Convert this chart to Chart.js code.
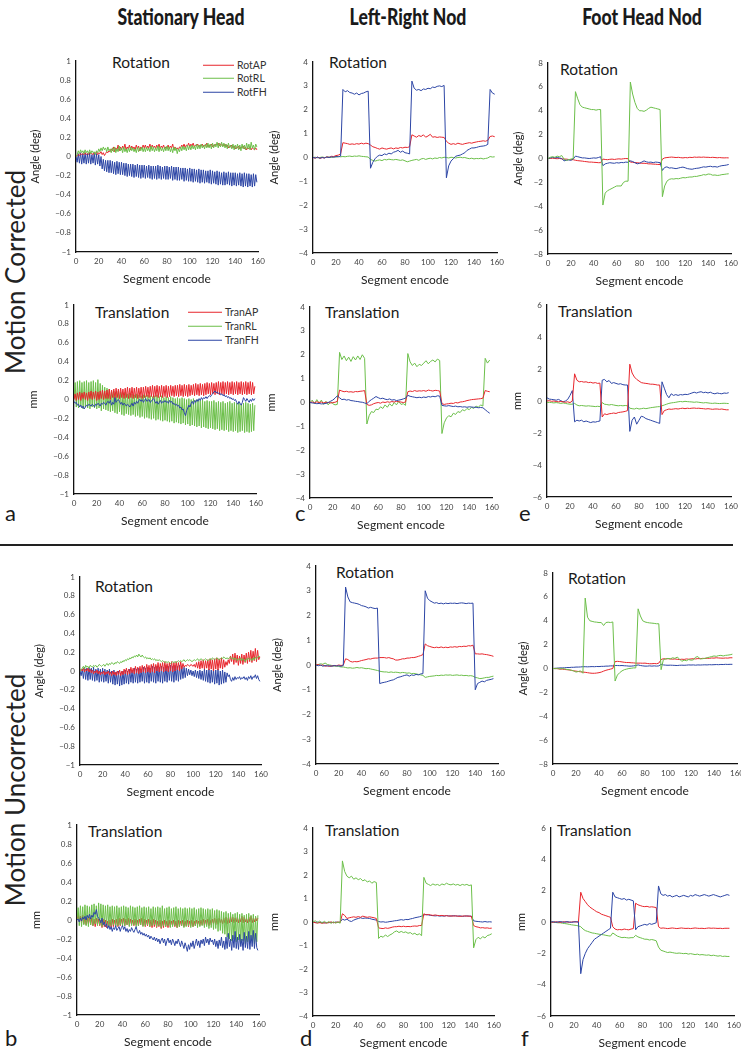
<!DOCTYPE html>
<html>
<head>
<meta charset="utf-8">
<script src="https://cdn.jsdelivr.net/npm/chart.js@4"></script>
<style>
  body { margin: 0; background: #fff; width: 741px; height: 1050px; position: relative; overflow: hidden; font-family: Lato, 'Open Sans', sans-serif; color: #1a1a1a; }
  canvas { position: absolute; }
  .hd { position: absolute; transform: translate(-50%, -50%) scaleX(0.8); font: 900 22px Lato, 'Open Sans', sans-serif; line-height: 1; white-space: nowrap; color: #1a1a1a; }
  .tt { position: absolute; transform: translateY(-50%); font-size: 15.5px; line-height: 1; white-space: nowrap; }
  .side { position: absolute; transform: translate(-50%, -50%) rotate(-90deg); font-size: 26px; line-height: 1; white-space: nowrap; color: #222; }
  .let { position: absolute; transform: translateY(-50%); font-size: 22px; line-height: 1; }
  .lg { position: absolute; transform: translateY(-50%); font-size: 10.5px; line-height: 1; display: flex; align-items: center; white-space: nowrap; color: #333; }
  .lg span { display: inline-block; border-top: 1.4px solid; margin-right: 3px; }
  .rule { position: absolute; left: 0; top: 544px; width: 733px; height: 2px; background: #222; }
</style>
</head>
<body>
<div class="hd" style="left:181px;top:17px">Stationary Head</div>
<div class="hd" style="left:408px;top:17px">Left-Right Nod</div>
<div class="hd" style="left:642px;top:17px">Foot Head Nod</div>
<div class="side" style="left:15px;top:272px">Motion Corrected</div>
<div class="side" style="left:15px;top:790px">Motion Uncorrected</div>
<div class="rule"></div>

<div class="tt" style="left:112px;top:63px">Rotation</div>
<div class="tt" style="left:329px;top:63px">Rotation</div>
<div class="tt" style="left:560px;top:70px">Rotation</div>
<div class="tt" style="left:95px;top:313px">Translation</div>
<div class="tt" style="left:325px;top:313px">Translation</div>
<div class="tt" style="left:558px;top:312px">Translation</div>
<div class="tt" style="left:95px;top:587px">Rotation</div>
<div class="tt" style="left:336px;top:573px">Rotation</div>
<div class="tt" style="left:568px;top:579px">Rotation</div>
<div class="tt" style="left:88px;top:832px">Translation</div>
<div class="tt" style="left:325px;top:831px">Translation</div>
<div class="tt" style="left:557px;top:831px">Translation</div>

<div class="lg" style="left:203px;top:65px"><span style="width:31px;border-color:#e8262d"></span>RotAP</div>
<div class="lg" style="left:203px;top:78px"><span style="width:31px;border-color:#6cbf4a"></span>RotRL</div>
<div class="lg" style="left:203px;top:92px"><span style="width:31px;border-color:#2c45a5"></span>RotFH</div>
<div class="lg" style="left:188px;top:312px"><span style="width:34px;border-color:#e8262d"></span>TranAP</div>
<div class="lg" style="left:188px;top:326px"><span style="width:34px;border-color:#6cbf4a"></span>TranRL</div>
<div class="lg" style="left:188px;top:340px"><span style="width:34px;border-color:#2c45a5"></span>TranFH</div>

<div class="let" style="left:5px;top:513px">a</div>
<div class="let" style="left:295px;top:513px">c</div>
<div class="let" style="left:519px;top:513px">e</div>
<div class="let" style="left:5px;top:1038px">b</div>
<div class="let" style="left:300px;top:1038px">d</div>
<div class="let" style="left:521px;top:1038px">f</div>

<script>
// x categories: every segment for the stationary runs, every 2nd segment for the nod runs
const segments = Array.from({ length: 160 }, (_, i) => i);
const segEven = Array.from({ length: 80 }, (_, i) => 2 * i);

// ---- a: stationary head, motion corrected ----
const aRotAP = [0,0.01,0.02,0.01,0.03,0.02,0.03,0.02,0.04,0.02, 0.03,0.02,0.04,0.03,0.03,0.02,0.04,0.03,0.05,0.02,
  0.04,0.03,0.05,0.02,0.04,0.01,0.03,0.05,0.04,0.06, 0.05,0.08,0.06,0.1,0.05,0.09,0.07,0.12,0.06,0.1,
  0.07,0.11,0.08,0.13,0.07,0.1,0.08,0.12,0.07,0.11, 0.08,0.1,0.07,0.12,0.08,0.11,0.06,0.1,0.08,0.12,
  0.09,0.12,0.08,0.11,0.09,0.13,0.08,0.12,0.09,0.11, 0.08,0.12,0.09,0.13,0.08,0.11,0.09,0.12,0.08,0.1,
  0.09,0.12,0.08,0.11,0.09,0.13,0.07,0.1,0.08,0.09, 0.07,0.1,0.09,0.12,0.1,0.13,0.09,0.12,0.11,0.14,
  0.1,0.13,0.11,0.14,0.1,0.12,0.11,0.13,0.1,0.12, 0.11,0.13,0.1,0.12,0.11,0.14,0.1,0.12,0.11,0.13,
  0.1,0.12,0.11,0.13,0.12,0.14,0.11,0.13,0.12,0.12, 0.11,0.13,0.1,0.12,0.09,0.11,0.1,0.12,0.09,0.11,
  0.08,0.1,0.09,0.11,0.08,0.1,0.09,0.11,0.08,0.1, 0.07,0.09,0.08,0.1,0.07,0.09,0.08,0.07,0.09,0.07];
const aRotRL = [0,0.02,0.06,0.03,0.07,0.04,0.06,0.03,0.07,0.04, 0.06,0.03,0.07,0.03,0.06,0.04,0.05,0.02,0.06,0.04,
  0.08,0.05,0.09,0.06,0.1,0.07,0.09,0.05,0.1,0.06, 0.08,0.04,0.09,0.05,0.1,0.04,0.08,0.05,0.11,0.06,
  0.09,0.04,0.1,0.05,0.08,0.04,0.09,0.05,0.1,0.06, 0.09,0.05,0.08,0.04,0.1,0.05,0.09,0.06,0.1,0.05,
  0.09,0.05,0.1,0.06,0.09,0.05,0.11,0.06,0.1,0.05, 0.09,0.06,0.11,0.05,0.1,0.06,0.09,0.05,0.1,0.06,
  0.11,0.06,0.1,0.05,0.09,0.04,0.1,0.06,0.09,0.03, 0.08,0.05,0.1,0.06,0.11,0.07,0.1,0.06,0.12,0.07,
  0.11,0.07,0.12,0.08,0.11,0.07,0.13,0.08,0.12,0.08, 0.13,0.09,0.12,0.08,0.13,0.09,0.14,0.09,0.13,0.08,
  0.14,0.09,0.13,0.1,0.15,0.09,0.14,0.1,0.15,0.1, 0.14,0.09,0.13,0.08,0.14,0.09,0.12,0.08,0.13,0.07,
  0.12,0.08,0.13,0.07,0.12,0.06,0.13,0.08,0.12,0.07, 0.14,0.08,0.13,0.07,0.15,0.09,0.12,0.07,0.13,0.1];
const aRotFH = [0,-0.06,0.03,-0.07,0.04,-0.08,0.03,-0.07,0.04,-0.08, 0.03,-0.07,0.04,-0.08,0.02,-0.07,0.04,-0.09,0.03,-0.08,
  0.02,-0.1,0,-0.13,-0.03,-0.15,-0.04,-0.16,-0.04,-0.17, -0.04,-0.17,-0.05,-0.18,-0.06,-0.19,-0.05,-0.18,-0.06,-0.19,
  -0.06,-0.19,-0.07,-0.2,-0.07,-0.21,-0.08,-0.2,-0.08,-0.21, -0.08,-0.22,-0.09,-0.21,-0.08,-0.22,-0.09,-0.23,-0.09,-0.22,
  -0.09,-0.23,-0.1,-0.22,-0.09,-0.23,-0.1,-0.24,-0.1,-0.23, -0.1,-0.24,-0.09,-0.23,-0.1,-0.24,-0.11,-0.23,-0.1,-0.24,
  -0.1,-0.24,-0.11,-0.23,-0.1,-0.25,-0.11,-0.24,-0.11,-0.25, -0.11,-0.25,-0.12,-0.24,-0.12,-0.26,-0.12,-0.25,-0.13,-0.26,
  -0.12,-0.26,-0.13,-0.27,-0.13,-0.26,-0.14,-0.27,-0.13,-0.28, -0.14,-0.27,-0.14,-0.28,-0.15,-0.27,-0.15,-0.28,-0.14,-0.29,
  -0.15,-0.28,-0.16,-0.29,-0.15,-0.3,-0.16,-0.29,-0.17,-0.3, -0.16,-0.3,-0.17,-0.29,-0.16,-0.3,-0.17,-0.31,-0.17,-0.3,
  -0.17,-0.31,-0.18,-0.3,-0.17,-0.31,-0.18,-0.32,-0.17,-0.31, -0.18,-0.32,-0.18,-0.31,-0.19,-0.32,-0.18,-0.31,-0.19,-0.27];
const aTranAP = [0,0.06,-0.01,0.07,0,0.08,-0.01,0.07,0.01,0.08, 0,0.07,-0.01,0.08,0.01,0.09,0,0.08,0.01,0.09,
  -0.01,0.08,0,0.09,0.01,0.1,0,0.09,0.01,0.1, 0.01,0.11,0,0.1,0.02,0.11,0.01,0.12,0.02,0.11,
  0.01,0.12,0.02,0.11,0.01,0.12,0.02,0.13,0.01,0.12, 0.02,0.13,0.01,0.12,0.02,0.13,0.01,0.12,0.02,0.13,
  0.01,0.13,0.02,0.14,0.03,0.13,0.02,0.14,0.03,0.15, 0.02,0.14,0.03,0.15,0.02,0.14,0.03,0.15,0.02,0.14,
  0.03,0.15,0.02,0.14,0.03,0.15,0.04,0.14,0.03,0.15, 0.04,0.15,0.03,0.16,0.04,0.15,0.03,0.16,0.04,0.15,
  0.03,0.16,0.04,0.15,0.05,0.16,0.04,0.17,0.05,0.16, 0.04,0.17,0.05,0.16,0.04,0.17,0.05,0.18,0.06,0.17,
  0.05,0.18,0.06,0.17,0.05,0.18,0.06,0.19,0.05,0.18, 0.06,0.19,0.05,0.18,0.06,0.19,0.05,0.18,0.06,0.19,
  0.05,0.18,0.06,0.19,0.05,0.18,0.06,0.19,0.05,0.18, 0.06,0.19,0.05,0.18,0.06,0.19,0.05,0.18,0.06,0.14];
const aTranRL = [0,0.18,-0.08,0.19,-0.09,0.2,-0.07,0.18,-0.1,0.19, -0.08,0.2,-0.09,0.18,-0.1,0.19,-0.08,0.2,-0.09,0.18,
  -0.1,0.21,-0.09,0.17,-0.12,0.15,-0.1,0.13,-0.11,0.12, -0.12,0.11,-0.13,0.1,-0.12,0.09,-0.14,0.08,-0.15,0.09,
  -0.13,0.08,-0.16,0.07,-0.17,0.08,-0.15,0.06,-0.16,0.07, -0.17,0.06,-0.16,0.05,-0.18,0.06,-0.17,0.05,-0.19,0.04,
  -0.18,0.05,-0.2,0.04,-0.19,0.05,-0.2,0.04,-0.21,0.03, -0.2,0.04,-0.22,0.05,-0.21,0.03,-0.22,0.04,-0.23,0.02,
  -0.22,0.03,-0.23,0.02,-0.24,0.03,-0.23,0.02,-0.25,0.01, -0.24,0.02,-0.25,0.01,-0.26,0.02,-0.25,0.01,-0.27,0,
  -0.26,0.01,-0.28,0,-0.27,0.01,-0.28,-0.01,-0.29,0, -0.28,-0.01,-0.3,0,-0.29,-0.02,-0.3,-0.01,-0.31,-0.02,
  -0.3,-0.02,-0.31,-0.01,-0.32,-0.03,-0.31,-0.02,-0.33,-0.03, -0.32,-0.02,-0.33,-0.04,-0.32,-0.03,-0.34,-0.02,-0.33,-0.04,
  -0.34,-0.03,-0.33,-0.04,-0.35,-0.03,-0.34,-0.05,-0.33,-0.04, -0.35,-0.03,-0.34,-0.04,-0.35,-0.05,-0.34,-0.04,-0.33,-0.06];
const aTranFH = [-0.02,-0.04,-0.03,-0.06,-0.05,-0.08,-0.06,-0.09,-0.07,-0.1, -0.08,-0.06,-0.07,-0.05,-0.06,-0.07,-0.05,-0.06,-0.08,-0.05,
  -0.06,-0.04,-0.05,-0.07,-0.04,-0.05,-0.03,-0.04,-0.06,-0.03, -0.02,-0.04,-0.01,-0.06,-0.03,-0.05,0.02,-0.03,-0.01,0,
  -0.02,-0.05,-0.03,-0.06,-0.04,-0.05,-0.07,-0.05,-0.06,-0.08, -0.06,-0.04,-0.07,-0.03,-0.05,-0.02,-0.04,-0.01,0,-0.02,
  0,-0.03,-0.01,0.01,-0.02,-0.01,0,-0.03,-0.02,0, 0.01,-0.02,-0.04,-0.02,-0.05,-0.03,-0.01,-0.04,-0.02,-0.03,
  -0.01,-0.03,-0.02,-0.04,-0.01,-0.03,-0.02,-0.05,-0.04,-0.06, -0.05,-0.07,-0.06,-0.09,-0.08,-0.11,-0.1,-0.14,-0.17,-0.12,
  -0.09,-0.06,-0.08,-0.04,-0.02,-0.05,-0.01,-0.03,0,-0.02, 0.01,-0.01,0.02,0,0.02,0.01,0.03,0.01,0.03,0.04,
  0.03,0.05,0.06,0.08,0.09,0.07,0.08,0.06,0.07,0.05, 0.06,0.04,0.05,0.03,0.04,0.02,0.03,0.01,0.02,0,
  0.01,-0.01,0,-0.03,-0.05,-0.02,-0.04,-0.06,-0.03,0.02, 0,-0.02,0.01,-0.01,-0.03,0,-0.02,0.01,-0.01,0.01];

// ---- b: stationary head, motion uncorrected ----
const bRotAP = [0,0.02,0,0.03,-0.01,0.02,0,0.03,-0.01,0.02, -0.02,0.01,-0.03,0,-0.02,0.01,-0.03,0,-0.04,-0.01,
  -0.03,0,-0.04,-0.01,-0.03,0,-0.04,-0.01,-0.05,0, -0.04,-0.01,-0.05,0,-0.04,0.01,-0.05,0,-0.04,0.02,
  -0.03,0.03,-0.04,0.02,-0.03,0.04,-0.02,0.03,-0.03,0.05, -0.02,0.04,-0.03,0.05,-0.02,0.06,-0.01,0.05,-0.02,0.07,
  -0.01,0.06,-0.02,0.07,-0.01,0.08,-0.02,0.07,0,0.09, -0.01,0.08,0,0.09,-0.01,0.1,0,0.08,-0.01,0.09,
  0,0.1,-0.01,0.09,0,0.1,0.01,0.09,0,0.1, 0.02,0.08,0.04,0.06,0.05,0.07,0.06,0.05,0.07,0.06,
  0.05,0.07,0.04,0.09,0.03,0.1,0.02,0.11,0.03,0.12, 0.02,0.11,0.03,0.12,0.01,0.13,0.02,0.12,0,0.13,
  0.02,0.14,0.01,0.13,0.03,0.14,0.02,0.12,0.04,0.1, 0.06,0.12,0.08,0.16,0.1,0.18,0.07,0.19,0.09,0.17,
  0.06,0.16,0.08,0.18,0.07,0.17,0.09,0.19,0.08,0.2, 0.1,0.22,0.09,0.21,0.11,0.24,0.1,0.22,0.12,0.15];
const bRotRL = [0,0.01,0.03,0.05,0.02,0.06,0.04,0.05,0.03,0.06, 0.05,0.04,0.06,0.05,0.06,0.04,0.05,0.07,0.06,0.05,
  0.06,0.07,0.05,0.07,0.08,0.06,0.08,0.07,0.09,0.08, 0.07,0.09,0.08,0.1,0.09,0.08,0.1,0.09,0.11,0.1,
  0.12,0.11,0.13,0.12,0.14,0.13,0.15,0.14,0.16,0.15, 0.17,0.15,0.18,0.16,0.15,0.17,0.15,0.14,0.15,0.13,
  0.14,0.13,0.14,0.12,0.13,0.12,0.13,0.11,0.12,0.11, 0.12,0.11,0.1,0.11,0.1,0.09,0.1,0.09,0.1,0.09,
  0.08,0.09,0.1,0.09,0.1,0.09,0.1,0.11,0.1,0.11, 0.1,0.11,0.12,0.1,0.11,0.12,0.11,0.12,0.11,0.1,
  0.11,0.12,0.11,0.12,0.13,0.11,0.12,0.13,0.12,0.11, 0.12,0.13,0.12,0.11,0.12,0.13,0.12,0.14,0.13,0.12,
  0.13,0.14,0.13,0.12,0.13,0.14,0.13,0.15,0.14,0.13, 0.14,0.13,0.14,0.15,0.13,0.14,0.12,0.14,0.13,0.11,
  0.13,0.12,0.14,0.11,0.13,0.12,0.1,0.13,0.12,0.14, 0.12,0.13,0.11,0.14,0.12,0.15,0.13,0.14,0.16,0.15];
const bRotFH = [0,-0.05,0.02,-0.08,0.04,-0.09,0.03,-0.1,0.04,-0.09, 0.03,-0.1,0.04,-0.11,0.02,-0.1,0.03,-0.12,0.02,-0.11,
  0.03,-0.12,0.02,-0.11,0.01,-0.13,0.02,-0.12,0,-0.14, 0.01,-0.15,-0.01,-0.14,0,-0.16,-0.02,-0.15,0,-0.14,
  0.01,-0.13,0,-0.14,0.02,-0.12,0.01,-0.13,0.03,-0.12, 0.02,-0.13,0.03,-0.12,0.02,-0.11,0.04,-0.13,0.03,-0.12,
  0.04,-0.13,0.03,-0.11,0.05,-0.12,0.04,-0.13,0.05,-0.11, 0.04,-0.12,0.05,-0.13,0.04,-0.11,0.06,-0.12,0.05,-0.1,
  0.06,-0.11,0.05,-0.12,0.06,-0.1,0.05,-0.11,0.06,-0.09, 0.05,-0.08,0.04,-0.07,0.03,-0.05,0.02,-0.04,0.01,-0.05,
  0,-0.06,0.01,-0.07,0,-0.08,0.01,-0.09,0,-0.1, 0.02,-0.11,0.01,-0.12,0.02,-0.13,0.01,-0.12,0.02,-0.14,
  0.01,-0.13,0.02,-0.15,0,-0.14,0.01,-0.13,-0.01,-0.12, -0.02,-0.06,-0.04,-0.09,-0.11,-0.07,-0.1,-0.06,-0.09,-0.07,
  -0.08,-0.06,-0.09,-0.07,-0.08,-0.06,-0.09,-0.07,-0.1,-0.06, -0.08,-0.05,-0.09,-0.06,-0.07,-0.04,-0.08,-0.05,-0.09,-0.11];
const bTranAP = [0,0.06,-0.02,0.04,-0.03,0.05,-0.04,0.03,-0.05,0.02, -0.04,0.03,-0.05,0.02,-0.06,0.01,-0.07,0.02,-0.05,0.01,
  -0.06,0,-0.08,0.01,-0.07,0,-0.08,-0.01,-0.07,0, -0.08,0.01,-0.07,0,-0.06,0.01,-0.07,0.02,-0.06,0.01,
  -0.05,0.02,-0.06,0.01,-0.05,0.02,-0.06,0.01,-0.05,0, -0.06,0.01,-0.05,0,-0.06,0.01,-0.05,0.02,-0.06,0.01,
  -0.07,0,-0.06,0.01,-0.07,0,-0.08,0.01,-0.07,0, -0.08,-0.01,-0.07,0,-0.09,-0.01,-0.08,0,-0.07,-0.01,
  -0.08,0,-0.07,-0.01,-0.06,0,-0.07,-0.01,-0.08,0, -0.07,-0.01,-0.06,0,-0.07,-0.01,-0.06,0,-0.07,-0.01,
  -0.06,0,-0.07,-0.01,-0.06,0,-0.05,-0.01,-0.06,0, -0.05,0.01,-0.06,0,-0.05,0.01,-0.06,0,-0.05,0.01,
  -0.04,0.02,-0.05,0.01,-0.04,0.02,-0.03,0.01,-0.04,0.02, -0.03,0.03,-0.04,0.02,-0.03,0.04,-0.02,0.03,-0.03,0.02,
  -0.02,0.03,-0.03,0.02,-0.02,0.04,-0.03,0.03,-0.02,0.02, -0.03,0.03,-0.02,0.04,-0.03,0.02,-0.02,0.03,-0.01,0.02];
const bTranRL = [0,0.13,-0.06,0.15,-0.07,0.14,-0.05,0.16,-0.06,0.15, -0.07,0.14,-0.05,0.16,-0.06,0.17,-0.04,0.15,-0.06,0.18,
  -0.05,0.17,-0.07,0.16,-0.05,0.15,-0.06,0.16,-0.07,0.14, -0.06,0.15,-0.05,0.14,-0.07,0.15,-0.06,0.13,-0.05,0.14,
  -0.07,0.15,-0.06,0.14,-0.05,0.13,-0.07,0.15,-0.06,0.14, -0.05,0.13,-0.07,0.14,-0.06,0.15,-0.05,0.13,-0.07,0.14,
  -0.06,0.13,-0.05,0.14,-0.07,0.12,-0.06,0.14,-0.05,0.13, -0.07,0.14,-0.06,0.13,-0.08,0.15,-0.06,0.12,-0.07,0.13,
  -0.06,0.14,-0.08,0.12,-0.07,0.13,-0.06,0.14,-0.08,0.12, -0.07,0.13,-0.06,0.12,-0.08,0.13,-0.07,0.12,-0.06,0.13,
  -0.08,0.12,-0.07,0.13,-0.06,0.11,-0.08,0.12,-0.07,0.13, -0.06,0.12,-0.08,0.11,-0.07,0.12,-0.09,0.11,-0.08,0.12,
  -0.1,0.1,-0.09,0.11,-0.12,0.1,-0.11,0.09,-0.14,0.08, -0.15,0.09,-0.18,0.07,-0.2,0.08,-0.22,0.06,-0.2,0.07,
  -0.23,0.08,-0.21,0.06,-0.24,0.07,-0.22,0.05,-0.25,0.06, -0.23,0.07,-0.24,0.05,-0.22,0.06,-0.25,0.04,-0.23,0.05];
const bTranFH = [0,0.01,-0.02,0.02,-0.01,0.03,0.01,0.04,0,0.05, 0.02,0.06,0.01,0.05,0.03,0.08,0.06,0.11,0.04,0.02,
  0,-0.03,0.02,-0.05,-0.02,-0.07,-0.04,-0.09,-0.06,-0.1, -0.07,-0.12,-0.08,-0.1,-0.06,-0.11,-0.09,-0.07,-0.12,-0.08,
  -0.06,-0.1,-0.07,-0.12,-0.09,-0.13,-0.1,-0.12,-0.08,-0.11, -0.13,-0.1,-0.07,-0.12,-0.14,-0.11,-0.15,-0.13,-0.16,-0.14,
  -0.17,-0.15,-0.18,-0.16,-0.2,-0.17,-0.19,-0.21,-0.18,-0.22, -0.19,-0.23,-0.2,-0.25,-0.21,-0.19,-0.24,-0.2,-0.27,-0.22,
  -0.19,-0.24,-0.21,-0.26,-0.2,-0.23,-0.27,-0.22,-0.25,-0.2, -0.24,-0.28,-0.22,-0.26,-0.3,-0.24,-0.28,-0.33,-0.26,-0.31,
  -0.24,-0.28,-0.22,-0.3,-0.25,-0.2,-0.27,-0.22,-0.29,-0.21, -0.25,-0.2,-0.27,-0.18,-0.24,-0.2,-0.26,-0.19,-0.23,-0.21,
  -0.26,-0.2,-0.28,-0.22,-0.3,-0.21,-0.27,-0.18,-0.29,-0.22, -0.31,-0.18,-0.3,-0.14,-0.28,-0.2,-0.32,-0.16,-0.29,-0.12,
  -0.3,-0.18,-0.31,-0.15,-0.28,-0.2,-0.32,-0.13,-0.29,-0.17, -0.3,-0.12,-0.31,-0.16,-0.28,-0.11,-0.3,-0.14,-0.29,-0.32];

// ---- c: left-right nod, motion corrected ----
const cRotAP = [0,-0.03,0.02,-0.04,0,-0.02,0.03,0,0.05,0.04,0.08,0.1,0.15,
  0.62,0.6,0.58,0.55,0.57,0.55,0.58,0.56,0.6,0.57,0.6,0.58,
  0.52,0.45,0.42,0.38,0.35,0.4,0.37,0.35,0.38,0.4,0.36,0.4,0.38,0.42,0.4,0.43,0.42,0.45,
  0.95,0.9,0.85,0.92,0.88,0.95,0.85,0.9,0.97,0.85,0.87,0.84,0.86,0.85,0.84,
  0.68,0.6,0.55,0.58,0.55,0.6,0.57,0.55,0.58,0.6,0.62,0.6,0.63,0.65,0.67,0.68,0.7,0.68,0.72,
  0.88,0.9,0.87];
const cRotRL = [0,0.01,-0.01,0,0.02,0,0.01,0.02,0,0.03,0.02,0.04,0.03,
  0.04,0.03,0.05,0.06,0.04,0.06,0.05,0.07,0.05,0.04,0.03,0.02,
  -0.08,-0.12,-0.15,-0.12,-0.1,-0.13,-0.08,-0.1,-0.07,-0.09,-0.1,-0.08,-0.1,-0.12,-0.1,-0.14,-0.18,-0.15,
  -0.12,-0.1,-0.08,-0.12,-0.06,-0.04,-0.08,-0.05,-0.03,-0.06,-0.02,-0.04,0,-0.02,0.01,
  0,-0.02,0.01,0,-0.02,0,0.01,-0.01,0,-0.03,-0.05,-0.03,-0.06,-0.04,-0.05,-0.03,-0.06,-0.04,-0.02,
  0.04,0.02,0.03];
const cRotFH = [0,-0.02,0.01,-0.03,0,-0.02,0.02,0,0.03,0.01,0.04,0.03,0.06,
  2.85,2.75,2.8,2.72,2.7,2.65,2.7,2.62,2.68,2.7,2.75,2.78,
  -0.45,-0.2,-0.05,0.05,0.1,0.08,0.15,0.12,0.18,0.15,0.22,0.25,0.3,0.22,0.27,0.2,0.18,0.15,
  3.2,2.9,2.82,2.85,2.8,2.87,2.85,2.9,2.88,2.95,2.93,2.98,3.0,2.97,3.02,
  -0.85,-0.35,-0.15,-0.05,0.05,0.08,0.1,0.15,0.2,0.3,0.35,0.4,0.4,0.42,0.45,0.47,0.48,0.5,0.55,
  2.85,2.7,2.65];
const cTranAP = [0,0.02,-0.01,0.03,0,0.02,-0.02,0.01,0,-0.02,0,0.01,0.05,
  0.52,0.48,0.45,0.47,0.44,0.45,0.43,0.46,0.45,0.47,0.48,0.5,
  -0.08,-0.12,-0.1,-0.05,-0.02,0,-0.03,0.02,0,0.03,0.01,0.04,0.02,0.05,0.03,0.02,0,0.02,
  0.45,0.48,0.46,0.5,0.47,0.49,0.48,0.5,0.47,0.52,0.5,0.48,0.51,0.5,0.48,
  -0.05,-0.08,-0.06,-0.05,-0.03,-0.04,0,-0.02,0.02,0.03,0.05,0.08,0.1,0.12,0.13,0.14,0.15,0.16,0.18,
  0.5,0.47,0.45];
const cTranRL = [0,0.1,-0.05,0.12,-0.03,0.1,-0.08,0.05,-0.1,0.02,-0.05,-0.1,-0.08,
  2.1,1.8,1.95,1.75,1.9,1.72,1.92,1.78,1.95,1.8,2.0,1.85,
  -0.9,-0.55,-0.38,-0.42,-0.28,-0.3,-0.18,-0.25,-0.1,-0.2,-0.05,-0.15,0,-0.1,0.05,-0.08,-0.05,-0.12,
  2.05,1.7,1.55,1.65,1.5,1.6,1.55,1.65,1.75,1.62,1.72,1.78,1.7,1.82,1.76,
  -1.3,-0.85,-0.65,-0.55,-0.6,-0.45,-0.5,-0.38,-0.42,-0.3,-0.35,-0.25,-0.3,-0.2,-0.25,-0.15,-0.2,-0.1,-0.15,
  1.85,1.65,1.78];
const cTranFH = [0,-0.02,-0.03,-0.05,-0.04,-0.06,-0.05,-0.04,0,0.05,0.1,0.18,0.28,
  0.2,0.12,0.14,0.1,0.12,0.08,0.07,0.05,0.04,0.02,0.01,-0.02,
  -0.05,0.05,0.12,0.18,0.25,0.2,0.16,0.18,0.14,0.12,0.15,0.1,0.12,0.08,0.1,0.12,0.15,0.18,
  0.3,0.26,0.24,0.22,0.2,0.22,0.2,0.23,0.21,0.25,0.23,0.26,0.24,0.28,0.27,
  -0.12,-0.14,-0.15,-0.13,-0.15,-0.17,-0.15,-0.18,-0.17,-0.19,-0.18,-0.2,-0.18,-0.19,-0.2,-0.2,-0.22,-0.21,-0.22,
  -0.3,-0.38,-0.45];

// ---- d: left-right nod, motion uncorrected ----
const dRotAP = [0,0.02,-0.02,0,-0.05,-0.03,-0.06,-0.04,-0.02,-0.03,0,-0.02,0,
  0.25,0.22,0.15,0.12,0.14,0.13,0.15,0.18,0.2,0.22,0.25,0.24,0.27,0.28,0.28,
  0.3,0.3,0.3,0.28,0.3,0.27,0.25,0.2,0.2,0.22,0.25,0.25,0.28,0.28,0.3,0.3,0.32,0.35,0.38,0.42,
  0.85,0.78,0.75,0.72,0.7,0.72,0.7,0.73,0.7,0.72,0.7,0.73,0.72,0.74,0.72,0.75,0.74,0.76,0.75,0.78,0.77,0.8,
  0.45,0.45,0.44,0.45,0.43,0.42,0.4,0.38,0.35,null];
const dRotRL = [0,0.02,0.05,0.03,0.08,0.02,0,-0.02,-0.05,-0.04,-0.06,-0.08,-0.08,
  -0.1,-0.12,-0.11,-0.13,-0.12,-0.1,-0.12,-0.11,-0.13,-0.15,-0.14,-0.16,-0.18,-0.2,-0.22,
  -0.25,-0.27,-0.28,-0.28,-0.3,-0.28,-0.3,-0.29,-0.3,-0.32,-0.3,-0.31,-0.33,-0.32,-0.35,-0.34,-0.36,-0.38,-0.4,-0.42,
  -0.5,-0.48,-0.46,-0.45,-0.44,-0.42,-0.43,-0.41,-0.42,-0.4,-0.41,-0.4,-0.42,-0.41,-0.4,-0.42,-0.41,-0.43,-0.42,-0.44,-0.43,-0.45,
  -0.5,-0.52,-0.55,-0.54,-0.52,-0.5,-0.5,-0.47,-0.45,null];
const dRotFH = [0,-0.03,0,-0.05,-0.02,-0.04,-0.03,-0.05,-0.02,-0.04,-0.03,-0.05,-0.02,
  3.15,2.75,2.55,2.52,2.5,2.48,2.45,2.4,2.38,2.35,2.3,2.33,2.3,2.28,2.3,
  -0.75,-0.72,-0.7,-0.68,-0.65,-0.62,-0.6,-0.55,-0.5,-0.48,-0.45,-0.42,-0.4,-0.45,-0.4,-0.42,-0.38,-0.4,-0.36,-0.35,
  3.0,2.7,2.6,2.55,2.5,2.52,2.48,2.5,2.47,2.5,2.48,2.5,2.49,2.5,2.48,2.5,2.51,2.5,2.48,2.5,2.49,2.5,
  -1.0,-0.75,-0.7,-0.65,-0.68,-0.62,-0.6,-0.58,-0.55,null];
const dTranAP = [0,-0.03,-0.05,-0.02,-0.06,-0.03,-0.05,-0.02,0,-0.03,-0.02,0,-0.02,
  0.35,0.28,0.15,0.18,0.2,0.22,0.2,0.23,0.2,0.25,0.22,0.2,0.22,0.2,0.18,0.15,
  -0.25,-0.27,-0.28,-0.25,-0.27,-0.25,-0.22,-0.2,-0.2,-0.18,-0.2,-0.18,-0.2,-0.19,-0.2,-0.18,-0.17,-0.18,-0.15,-0.15,
  0.35,0.3,0.32,0.3,0.28,0.3,0.28,0.27,0.28,0.26,0.27,0.25,0.26,0.25,0.26,0.25,0.24,0.25,0.26,0.25,0.25,0.24,
  -0.15,-0.2,-0.22,-0.25,-0.24,-0.26,-0.25,-0.27,-0.26];
const dTranRL = [0,0.05,-0.03,0.04,-0.05,0.03,-0.04,0.02,-0.06,0.01,-0.05,0,-0.05,
  2.6,2.15,1.95,1.88,1.95,1.82,1.88,1.8,1.85,1.75,1.8,1.7,1.75,1.65,1.72,1.68,
  -0.7,-0.6,-0.65,-0.55,-0.62,-0.55,-0.5,-0.42,-0.38,-0.45,-0.4,-0.45,-0.42,-0.48,-0.45,-0.52,-0.48,-0.55,-0.5,-0.58,
  1.9,1.65,1.6,1.55,1.62,1.57,1.6,1.55,1.62,1.58,1.65,1.6,1.58,1.62,1.57,1.6,1.55,1.6,1.57,1.6,1.55,1.58,
  -1.1,-0.75,-0.65,-0.72,-0.62,-0.68,-0.58,-0.55,-0.5];
const dTranFH = [0,-0.02,0,-0.03,-0.01,-0.04,-0.02,-0.03,-0.01,-0.03,0,-0.02,0,
  0.12,0.08,0.12,0.05,0.02,0.08,0.12,0.15,0.18,0.15,0.17,0.16,0.15,0.12,0.1,0.08,
  0.02,0,0.01,-0.01,0,0.02,0.03,0.05,0.06,0.08,0.1,0.08,0.11,0.1,0.13,0.15,0.18,0.2,0.22,0.25,
  0.3,0.32,0.3,0.28,0.27,0.26,0.27,0.25,0.26,0.25,0.27,0.26,0.25,0.27,0.26,0.25,0.26,0.24,0.25,0.26,0.25,0.25,
  0.05,0.03,0.02,0.01,0,0.02,0,0.01,0];

// ---- e: foot-head nod, motion corrected ----
const eRotAP = [0,0,0.02,0,-0.02,0,-0.03,-0.05,-0.05,-0.08,-0.1,-0.1,
  -0.15,-0.18,-0.2,-0.22,-0.25,-0.27,-0.3,-0.3,-0.32,-0.33,-0.35,-0.35,
  -0.05,-0.08,-0.1,-0.07,-0.05,-0.08,-0.05,-0.03,-0.05,-0.02,0,-0.02,
  -0.3,-0.32,-0.35,-0.35,-0.38,-0.4,-0.4,-0.42,-0.45,-0.45,-0.47,-0.48,-0.5,-0.5,
  -0.05,0.05,0.08,0.1,0.12,0.1,0.08,0.1,0.07,0.05,0.08,0.06,0.1,0.08,0.12,0.1,0.12,0.1,0.12,0.1,
  0.1,0.08,0.1,0.08,0.06,0.08,0.06,0.05,0.06,0.05];
const eRotRL = [0,0.1,0.15,0.1,0.2,0.15,0.25,-0.05,-0.15,-0.1,-0.05,0,
  5.6,5.0,4.5,4.3,4.25,4.2,4.15,4.1,4.1,4.05,4.1,4.1,
  -3.9,-2.9,-2.7,-2.6,-2.5,-2.4,-2.3,-2.3,-2.3,-2.0,-1.9,-1.9,
  6.4,5.4,4.7,4.2,4.0,4.0,3.95,4.05,4.2,4.3,4.25,4.2,4.15,4.1,
  -3.2,-2.3,-1.9,-1.75,-1.7,-1.72,-1.68,-1.7,-1.65,-1.6,-1.62,-1.58,-1.55,-1.55,-1.5,-1.5,-1.45,-1.42,-1.35,-1.38,
  -1.3,-1.32,-1.4,-1.38,-1.42,-1.4,-1.35,-1.33,-1.3,-1.28];
const eRotFH = [0,0.05,0.1,0.05,0.08,0.05,0,-0.2,-0.15,-0.12,-0.15,-0.05,
  0.2,0.15,0.1,0.05,0.05,0.02,0,0.02,0.05,0.03,0.08,0.15,
  -0.6,-0.45,-0.4,-0.35,-0.38,-0.4,-0.35,-0.38,-0.33,-0.35,-0.3,-0.32,
  -0.2,-0.25,-0.35,-0.45,-0.4,-0.3,-0.2,-0.28,-0.32,-0.3,-0.35,-0.3,-0.32,-0.35,
  -1.0,-0.75,-0.7,-0.8,-0.78,-0.82,-0.85,-0.8,-0.75,-0.72,-0.78,-0.85,-0.88,-0.9,-0.85,-0.82,-0.8,-0.75,-0.7,-0.72,
  -0.68,-0.65,-0.7,-0.68,-0.72,-0.65,-0.6,-0.58,-0.55,-0.5];
const eTranAP = [0,0.02,-0.02,0,-0.03,-0.05,-0.03,-0.05,-0.08,-0.05,-0.1,0,
  1.7,1.3,1.2,1.22,1.18,1.2,1.15,1.17,1.12,1.15,1.1,1.12,
  -1.0,-0.8,-0.85,-0.8,-0.78,-0.75,-0.78,-0.72,-0.7,-0.68,-0.65,-0.6,
  2.3,1.75,1.5,1.35,1.25,1.15,1.12,1.1,1.08,1.05,1.05,1.03,1.0,1.0,
  -0.85,-0.6,-0.55,-0.5,-0.52,-0.5,-0.48,-0.5,-0.47,-0.45,-0.48,-0.45,-0.47,-0.45,-0.44,-0.46,-0.45,-0.47,-0.48,-0.5,
  -0.48,-0.5,-0.52,-0.5,-0.5,-0.52,-0.5,-0.53,-0.55,-0.55];
const eTranRL = [-0.1,-0.08,-0.1,-0.12,-0.1,-0.12,-0.15,-0.12,-0.15,-0.18,-0.2,-0.2,
  -0.15,-0.25,-0.3,-0.28,-0.3,-0.32,-0.3,-0.32,-0.33,-0.35,-0.33,-0.35,
  -0.1,-0.2,-0.22,-0.25,-0.22,-0.25,-0.28,-0.3,-0.28,-0.3,-0.28,-0.3,
  -0.45,-0.48,-0.5,-0.45,-0.5,-0.48,-0.45,-0.48,-0.45,-0.42,-0.4,-0.38,-0.36,-0.35,
  -0.3,-0.25,-0.2,-0.15,-0.12,-0.1,-0.08,-0.05,-0.03,-0.05,-0.02,-0.04,-0.05,-0.06,-0.08,-0.06,-0.08,-0.1,-0.12,-0.1,
  -0.12,-0.14,-0.15,-0.13,-0.15,-0.16,-0.15,-0.14,-0.15,-0.16];
const eTranFH = [0.2,0.12,0.1,0.08,0.05,0.1,0.02,-0.05,0,0.1,0.35,0.65,
  -1.3,-1.2,-1.25,-1.2,-1.3,-1.25,-1.3,-1.35,-1.3,-1.32,-1.28,-1.25,
  1.3,1.35,1.2,1.28,1.1,1.15,1.1,1.05,1.08,1.02,1.0,1.0,
  -1.9,-1.2,-1.0,-1.45,-1.2,-0.95,-1.0,-1.1,-1.15,-1.2,-1.25,-1.3,-1.35,-1.4,
  1.2,0.8,0.4,0.2,0.45,0.35,0.4,0.35,0.4,0.38,0.42,0.4,0.45,0.5,0.55,0.5,0.55,0.58,0.52,0.55,
  0.5,0.55,0.48,0.45,0.5,0.47,0.45,0.5,0.48,0.52];

// ---- f: foot-head nod, motion uncorrected ----
const fRotAP = [0,0,-0.02,-0.05,-0.05,-0.08,-0.1,-0.12,-0.15,-0.2,-0.22,-0.25,-0.28,-0.3,
  -0.32,-0.35,-0.38,-0.4,-0.4,-0.38,-0.35,-0.3,-0.22,-0.15,-0.1,-0.05,0,
  0.58,0.6,0.58,0.55,0.52,0.5,0.5,0.48,0.47,0.45,
  0.45,0.45,0.44,0.45,0.42,0.4,0.4,0.42,0.4,0.45,
  0.75,0.82,0.8,0.82,0.8,0.78,0.8,0.77,0.75,0.78,0.76,0.8,0.78,0.8,0.82,0.8,0.83,0.82,0.85,0.84,
  0.86,0.85,0.88,0.87,0.9,0.88,0.87,0.86,0.88,0.87,0.9,0.9,null];
const fRotRL = [0,-0.02,0.02,-0.05,0,-0.03,-0.08,-0.1,-0.15,-0.2,-0.3,-0.25,-0.2,-0.4,
  5.9,4.3,4.0,3.95,3.9,3.88,3.85,3.85,3.6,3.85,3.88,3.85,3.9,
  -1.05,-0.55,-0.35,-0.2,-0.1,-0.05,0,0.02,0.05,0.05,
  5.0,4.4,4.0,3.9,3.85,3.82,3.8,3.78,3.75,3.75,
  -0.1,0.75,0.8,0.85,0.8,0.9,0.85,0.95,0.8,0.6,0.7,0.65,0.75,0.7,0.72,0.95,1.0,0.8,0.82,0.85,
  0.9,0.95,1.0,1.05,1.02,1.08,1.1,1.05,1.1,1.12,1.15,1.2,null];
const fRotFH = [0,0.02,0.03,0.05,0.05,0.06,0.08,0.08,0.1,0.1,0.12,0.12,0.13,0.15,
  0.15,0.14,0.15,0.16,0.15,0.17,0.16,0.18,0.18,0.2,0.2,0.22,0.22,
  0.25,0.25,0.24,0.25,0.23,0.22,0.2,0.2,0.22,0.25,
  0.3,0.25,0.22,0.2,0.2,0.22,0.2,0.22,0.2,0.22,
  0.35,0.3,0.28,0.27,0.28,0.27,0.26,0.25,0.27,0.28,0.27,0.28,0.3,0.29,0.3,0.28,0.3,0.29,0.3,0.31,
  0.3,0.32,0.31,0.32,0.33,0.32,0.34,0.33,0.35,0.34,0.35,0.35,null];
const fTranAP = [0,-0.02,0.02,0,-0.03,0,0.02,0,-0.02,0,0.02,0,0,1.9,
  1.5,1.3,1.1,0.95,0.85,0.75,0.65,0.6,0.5,0.45,0.4,0.35,0.3,
  -0.3,-0.45,-0.5,-0.48,-0.5,-0.45,-0.48,-0.5,-0.45,-0.42,
  1.2,1.1,1.05,1.0,0.98,1.0,0.95,0.97,0.95,0.92,
  -0.3,-0.4,-0.38,-0.4,-0.42,-0.4,-0.38,-0.4,-0.42,-0.4,-0.38,-0.4,-0.41,-0.4,-0.42,-0.4,-0.38,-0.4,-0.41,-0.4,
  -0.42,-0.4,-0.38,-0.4,-0.39,-0.4,-0.41,-0.4,-0.42,-0.4,-0.4,-0.4,null];
const fTranRL = [0,-0.02,-0.03,-0.05,-0.05,-0.08,-0.1,-0.12,-0.15,-0.18,-0.2,-0.22,-0.25,-0.3,
  -0.45,-0.55,-0.6,-0.65,-0.7,-0.72,-0.75,-0.78,-0.8,-0.82,-0.85,-0.88,-0.9,
  -0.7,-0.8,-0.9,-0.95,-1.0,-0.98,-1.0,-1.02,-1.0,-1.0,
  -0.85,-0.95,-1.0,-1.05,-1.1,-1.1,-1.15,-1.12,-1.15,-1.2,
  -1.6,-1.8,-1.85,-1.9,-1.95,-1.92,-1.95,-1.98,-2.0,-1.98,-2.0,-2.02,-2.0,-2.05,-2.02,-2.05,-2.08,-2.05,-2.1,-2.08,
  -2.1,-2.12,-2.1,-2.15,-2.12,-2.15,-2.18,-2.15,-2.2,-2.18,-2.2,-2.2,null];
const fTranFH = [0,0.02,-0.02,0,0.03,0,-0.02,0.02,0,-0.02,0,0.02,0,-3.3,
  -2.4,-2.0,-1.7,-1.5,-1.3,-1.1,-1.0,-0.9,-0.8,-0.7,-0.6,-0.5,-0.4,
  1.9,1.6,1.55,1.5,1.45,1.5,1.4,1.45,1.4,1.35,
  -0.5,-0.3,-0.25,-0.2,-0.15,-0.2,-0.1,-0.15,-0.1,-0.05,
  2.3,1.8,1.7,1.75,1.65,1.7,1.6,1.65,1.7,1.6,1.65,1.7,1.65,1.6,1.7,1.65,1.75,1.7,1.65,1.7,
  1.75,1.7,1.65,1.7,1.75,1.7,1.65,1.6,1.65,1.7,1.75,1.7,null];

const RED = '#e8262d', GREEN = '#6cbf4a', BLUE = '#2c45a5';
Chart.defaults.font.family = "Lato, 'Open Sans', sans-serif";

const panels = [
  { L: 76, R: 258, T: 61, B: 252, lim: 1, step: 0.2, yTitle: 'Angle (deg)', tp: 3, x: segments, s: [[aRotRL, GREEN], [aRotAP, RED], [aRotFH, BLUE]] },
  { L: 313, R: 497, T: 62, B: 253, lim: 4, step: 1, yTitle: 'Angle (deg)', tp: 5, x: segEven, s: [[cRotFH, BLUE], [cRotAP, RED], [cRotRL, GREEN]] },
  { L: 548, R: 731, T: 63, B: 254, lim: 8, step: 2, yTitle: 'Angle (deg)', tp: 14, x: segEven, s: [[eRotRL, GREEN], [eRotFH, BLUE], [eRotAP, RED]] },
  { L: 74, R: 256, T: 305, B: 494, lim: 1, step: 0.2, yTitle: 'mm', tp: 3, x: segments, s: [[aTranFH, BLUE], [aTranAP, RED], [aTranRL, GREEN]] },
  { L: 310, R: 492, T: 307, B: 498, lim: 4, step: 1, yTitle: 'mm', tp: 5, x: segEven, s: [[cTranFH, BLUE], [cTranAP, RED], [cTranRL, GREEN]] },
  { L: 547, R: 731, T: 305, B: 497, lim: 6, step: 2, yTitle: 'mm', tp: 14, x: segEven, s: [[eTranAP, RED], [eTranFH, BLUE], [eTranRL, GREEN]] },
  { L: 80, R: 261, T: 577, B: 765, lim: 1, step: 0.2, yTitle: 'Angle (deg)', tp: 3, x: segments, s: [[bRotRL, GREEN], [bRotAP, RED], [bRotFH, BLUE]] },
  { L: 316, R: 498, T: 566, B: 764, lim: 4, step: 1, yTitle: 'Angle (deg)', tp: 5, x: segEven, s: [[dRotFH, BLUE], [dRotAP, RED], [dRotRL, GREEN]] },
  { L: 553, R: 737, T: 573, B: 764, lim: 8, step: 2, yTitle: 'Angle (deg)', tp: 14, x: segEven, s: [[fRotRL, GREEN], [fRotAP, RED], [fRotFH, BLUE]] },
  { L: 77, R: 259, T: 825, B: 1015, lim: 1, step: 0.2, yTitle: 'mm', tp: 3, x: segments, s: [[bTranFH, BLUE], [bTranRL, GREEN], [bTranAP, RED]] },
  { L: 313, R: 494, T: 828, B: 1016, lim: 4, step: 1, yTitle: 'mm', tp: 5, x: segEven, s: [[dTranRL, GREEN], [dTranAP, RED], [dTranFH, BLUE]] },
  { L: 551, R: 734, T: 828, B: 1016, lim: 6, step: 2, yTitle: 'mm', tp: 14, x: segEven, s: [[fTranFH, BLUE], [fTranAP, RED], [fTranRL, GREEN]] }
];

const yW = 50, xH = 34, padT = 8, padR = 14;
const fmt = v => Math.abs(v) < 1e-9 ? '0' : (v < 0 ? '\u2212' : '') + (+Math.abs(v).toFixed(1));

panels.forEach(p => {
  const cv = document.createElement('canvas');
  const left = p.L - yW, top = p.T - padT;
  const w = p.R + padR - left, h = p.B + xH - top;
  cv.width = w; cv.height = h;
  cv.style.left = left + 'px'; cv.style.top = top + 'px';
  cv.style.width = w + 'px'; cv.style.height = h + 'px';
  document.body.appendChild(cv);

  new Chart(cv, {
    type: 'line',
    data: {
      datasets: p.s.map((pair, i) => ({
        data: p.x.map((x, j) => ({ x: x, y: pair[0][j] })),
        borderColor: pair[1],
        borderWidth: 1,
        borderJoinStyle: 'round',
        pointRadius: 0,
        tension: 0,
        order: i
      }))
    },
    options: {
      responsive: false,
      animation: false,
      events: [],
      layout: { padding: { top: padT, right: padR, left: 0, bottom: 0 } },
      plugins: { legend: { display: false }, tooltip: { enabled: false } },
      scales: {
        x: {
          type: 'linear', min: 0, max: 160,
          grid: { display: false, drawTicks: false },
          border: { color: '#111', width: 1.3 },
          ticks: { stepSize: 20, padding: 5, color: '#444', font: { size: 8 }, maxRotation: 0, autoSkip: false },
          title: { display: true, text: 'Segment encode', color: '#222', font: { size: 12 }, padding: { top: 0, bottom: 0 } },
          afterFit: s => { s.height = xH; s.paddingLeft = 0; s.paddingRight = 0; }
        },
        y: {
          min: -p.lim, max: p.lim,
          grid: { display: false, drawTicks: false },
          border: { color: '#111', width: 1.3 },
          ticks: { stepSize: p.step, padding: 5, color: '#444', font: { size: 8 }, autoSkip: false, callback: fmt },
          title: { display: true, text: p.yTitle, color: '#222', font: { size: 11 }, padding: { top: p.tp, bottom: 0 } },
          afterFit: s => { s.width = yW; s.paddingTop = 0; s.paddingBottom = 0; }
        }
      }
    }
  });
});
</script>
</body>
</html>
